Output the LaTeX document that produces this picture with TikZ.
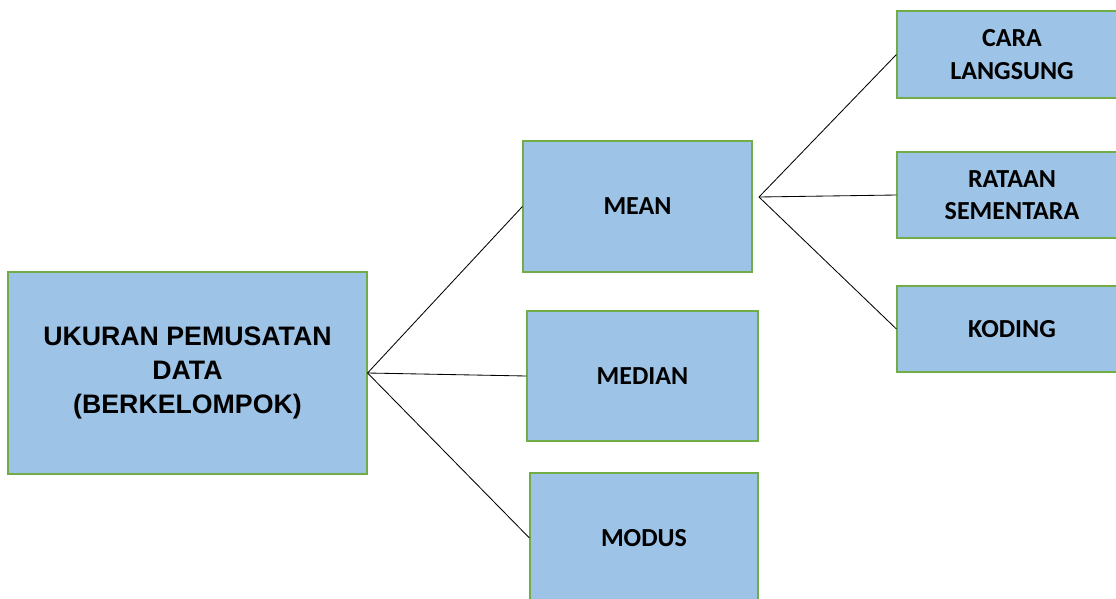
\documentclass[tikz,border=0pt]{standalone}
\usepackage{fontspec}
\setmainfont{Carlito}
\newfontfamily\arialbold{Liberation Sans}
\definecolor{boxblue}{HTML}{9DC3E6}
\definecolor{boxgreen}{HTML}{70AD47}
\begin{document}
\begin{tikzpicture}[
	box/.style={draw=boxgreen,fill=boxblue,line width=0.8pt,align=center,inner sep=0pt,
		font=\fontsize{18.5}{23}\selectfont\bfseries},
	link/.style={black,line width=0.6pt}]
	\useasboundingbox (0,0) rectangle (27.9,-14.975);
	\node[box,minimum width=8.975cm,minimum height=5.05cm,
		font=\arialbold\fontsize{19}{24}\selectfont\bfseries] (ukuran) at (4.6875,-9.325)
		{UKURAN PEMUSATAN\\DATA\\(BERKELOMPOK)};
	\node[box,minimum width=5.725cm,minimum height=3.275cm] (mean) at (15.9375,-5.1625) {MEAN};
	\node[box,minimum width=5.775cm,minimum height=3.25cm] (median) at (16.0625,-9.4) {MEDIAN};
	\node[box,minimum width=5.7cm,minimum height=3.25cm] (modus) at (16.1,-13.45) {MODUS};
	\node[box,minimum width=5.75cm,minimum height=2.175cm] (langsung) at (25.3,-1.3625) {CARA\\LANGSUNG};
	\node[box,minimum width=5.75cm,minimum height=2.15cm] (sementara) at (25.3,-4.875) {RATAAN\\SEMENTARA};
	\node[box,minimum width=5.75cm,minimum height=2.15cm] (koding) at (25.3,-8.225) {KODING};
	\coordinate (cabang) at (18.975,-4.925);
	\draw[link] (ukuran.east) -- (mean.west);
	\draw[link] (ukuran.east) -- (median.west);
	\draw[link] (ukuran.east) -- (modus.west);
	\draw[link] (cabang) -- (langsung.west);
	\draw[link] (cabang) -- (sementara.west);
	\draw[link] (cabang) -- (koding.west);
\end{tikzpicture}
\end{document}
